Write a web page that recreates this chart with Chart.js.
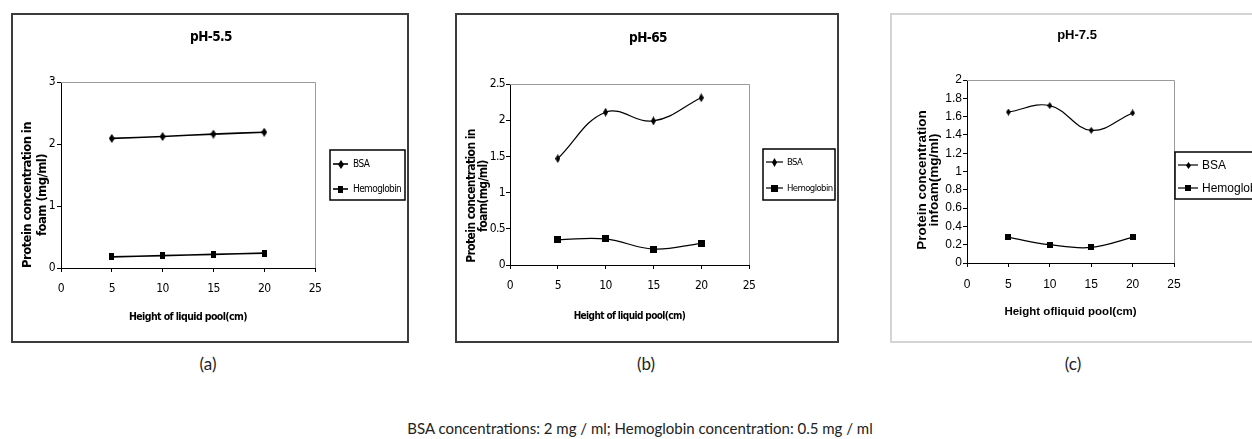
<!DOCTYPE html>
<html>
<head>
<meta charset="utf-8">
<script src="https://cdn.jsdelivr.net/npm/chart.js@4.4.1/dist/chart.umd.min.js"></script>
<style>
  html, body { margin: 0; padding: 0; background: #fff; }
  body { position: relative; width: 1252px; height: 439px; overflow: hidden; }
  .frame { position: absolute; box-sizing: border-box; }
  .dark { border: 2px solid #3c3c3c; }
  .light { border: 2px solid #d4d4d4; }
  canvas { position: absolute; }
  .cap { position: absolute; font-family: Lato, "Open Sans", sans-serif; color: #222; white-space: nowrap; transform: translate(-50%, -50%); }
  .sub { font-size: 17px; top: 363px; }
  #note { font-size: 15px; top: 428px; left: 640px; }
</style>
</head>
<body>
<div class="frame dark" style="left:11px;top:13px;width:398px;height:330px"></div>
<div class="frame dark" style="left:455px;top:13px;width:384px;height:330px"></div>
<div class="frame light" style="left:890px;top:13px;width:400px;height:330px"></div>
<canvas id="chartA" width="398" height="330" style="left:11px;top:13px"></canvas>
<canvas id="chartB" width="384" height="330" style="left:455px;top:13px"></canvas>
<canvas id="chartC" width="400" height="330" style="left:890px;top:13px"></canvas>
<div class="cap sub" style="left:208px">(a)</div>
<div class="cap sub" style="left:646px">(b)</div>
<div class="cap sub" style="left:1073px">(c)</div>
<div class="cap" id="note">BSA concentrations: 2 mg / ml; Hemoglobin concentration: 0.5 mg / ml</div>

<script>
// data
const heights = [5, 10, 15, 20];
const xTicks = [0, 5, 10, 15, 20, 25];

const bsa55 = [2.09, 2.12, 2.16, 2.19];
const hb55 = [0.18, 0.20, 0.22, 0.24];
const yTicks55 = [0, 1, 2, 3];

const bsa65 = [1.47, 2.11, 1.99, 2.31];
const hb65 = [0.35, 0.36, 0.22, 0.30];
const yTicks65 = [0, 0.5, 1, 1.5, 2, 2.5];

const bsa75 = [1.65, 1.72, 1.45, 1.64];
const hb75 = [0.28, 0.20, 0.17, 0.28];
const yTicks75 = [0, 0.2, 0.4, 0.6, 0.8, 1, 1.2, 1.4, 1.6, 1.8, 2];

const seriesNames = ['BSA', 'Hemoglobin'];

const NARROW = '"Liberation Sans Narrow", "DejaVu Sans Condensed", Arial, sans-serif';
const ARIAL = '"Liberation Sans", Arial, sans-serif';

// excel style markers: thin diamond and block
function makeMarker(shape, w, h) {
  const c = document.createElement('canvas');
  c.width = w;
  c.height = h;
  const g = c.getContext('2d');
  g.fillStyle = '#000';
  if (shape === 'diamond') {
    g.beginPath();
    g.moveTo(w / 2, 0);
    g.lineTo(w, h / 2);
    g.lineTo(w / 2, h);
    g.lineTo(0, h / 2);
    g.closePath();
    g.fill();
  } else {
    g.fillRect(0, 0, w, h);
  }
  return c;
}

const excelLook = {
  id: 'excelLook',
  beforeDraw(chart, args, opts) {
    // squeeze the text a little, the original charts use a narrow face
    chart.ctx.letterSpacing = opts.spacing || '0px';
  },
  beforeDatasetsDraw(chart, args, opts) {
    const { ctx, chartArea: a } = chart;
    ctx.save();
    ctx.strokeStyle = '#9a9a9a';
    ctx.lineWidth = 1;
    ctx.beginPath();
    ctx.moveTo(a.left, a.top + 0.5);
    ctx.lineTo(a.right + 0.5, a.top + 0.5);
    ctx.lineTo(a.right + 0.5, a.bottom);
    ctx.stroke();
    ctx.restore();
  },
  afterDraw(chart, args, opts) {
    const ctx = chart.ctx;
    ctx.save();
    ctx.fillStyle = '#000';
    ctx.font = opts.titleFont;
    ctx.textAlign = 'center';
    ctx.textBaseline = 'middle';
    ctx.fillText(opts.title, opts.titleX, opts.titleY);

    // y axis title, centred a bit below the plot middle like the original
    const T = opts.yTitle;
    ctx.font = T.font;
    T.lines.forEach((line, i) => {
      ctx.save();
      ctx.translate(T.x[i], T.yc);
      ctx.rotate(-Math.PI / 2);
      ctx.fillText(line, 0, 0);
      ctx.restore();
    });

    const L = opts.legend;
    ctx.fillStyle = '#fff';
    ctx.fillRect(L.left, L.top, L.width, L.height);
    ctx.strokeStyle = '#000';
    ctx.lineWidth = 1.5;
    ctx.strokeRect(L.left, L.top, L.width, L.height);
    ctx.font = L.font;
    ctx.textAlign = 'left';
    chart.data.datasets.forEach((ds, i) => {
      const y = L.top + L.rows[i];
      ctx.strokeStyle = '#000';
      ctx.lineWidth = ds.borderWidth;
      ctx.beginPath();
      ctx.moveTo(L.left + L.sample[0], y);
      ctx.lineTo(L.left + L.sample[1], y);
      ctx.stroke();
      const m = ds.pointStyle;
      const cx = L.left + (L.sample[0] + L.sample[1]) / 2;
      ctx.drawImage(m, Math.round(cx - m.width / 2), Math.round(y - m.height / 2));
      ctx.fillStyle = '#000';
      ctx.fillText(ds.label, L.left + L.textX, y + 0.5);
    });
    ctx.restore();
  }
};

function drawPanel(id, p) {
  const canvas = document.getElementById(id);
  const W = canvas.width, H = canvas.height;
  const tickFont = { family: p.family, size: p.tickSize };
  return new Chart(canvas, {
    type: 'line',
    data: {
      labels: heights,
      datasets: [
        {
          label: seriesNames[0],
          data: heights.map((h, i) => ({ x: h, y: p.bsa[i] })),
          borderColor: '#000',
          borderWidth: p.lineWidth,
          pointStyle: makeMarker('diamond', p.diamond[0], p.diamond[1]),
          tension: 0.4,
          fill: false
        },
        {
          label: seriesNames[1],
          data: heights.map((h, i) => ({ x: h, y: p.hb[i] })),
          borderColor: '#000',
          borderWidth: p.lineWidth,
          pointStyle: makeMarker('square', p.square[0], p.square[1]),
          tension: 0.4,
          fill: false
        }
      ]
    },
    options: {
      responsive: false,
      animation: false,
      events: [],
      layout: {
        padding: { left: 0, top: p.plot.top, right: W - p.plot.right, bottom: H - p.plot.bottom - 60 }
      },
      plugins: {
        legend: { display: false },
        tooltip: { enabled: false },
        excelLook: {
          spacing: p.spacing,
          title: p.title,
          titleFont: p.titleFont,
          titleX: p.titlePos[0],
          titleY: p.titlePos[1],
          yTitle: p.yTitle,
          legend: p.legend
        }
      },
      scales: {
        x: {
          type: 'linear',
          min: 0,
          max: 25,
          afterBuildTicks: (s) => { s.ticks = xTicks.map(v => ({ value: v })); },
          afterFit: (s) => { s.height = 60; },
          border: { color: '#000', width: 1 },
          grid: { drawOnChartArea: false, drawTicks: true, tickLength: 4, color: '#000' },
          ticks: { color: '#000', font: tickFont, padding: p.xPad, maxRotation: 0, autoSkip: false },
          title: {
            display: true,
            text: p.xTitle,
            color: '#000',
            font: { family: p.family, size: p.xTitleSize, weight: 'bold' },
            padding: { top: 0, bottom: p.xTitlePad }
          }
        },
        y: {
          min: 0,
          max: p.yTicks[p.yTicks.length - 1],
          afterBuildTicks: (s) => { s.ticks = p.yTicks.map(v => ({ value: v })); },
          afterFit: (s) => { s.width = p.plot.left; },
          border: { color: '#000', width: 1 },
          grid: { drawOnChartArea: false, drawTicks: true, tickLength: 4, color: '#000' },
          ticks: { color: '#000', font: tickFont, padding: p.yPad, autoSkip: false, callback: (v) => String(v) }
        }
      }
    },
    plugins: [excelLook]
  });
}

drawPanel('chartA', {
  bsa: bsa55, hb: hb55, yTicks: yTicks55, spacing: '-0.6px',
  plot: { left: 50, right: 304, top: 69, bottom: 255 },
  family: NARROW, tickSize: 12, lineWidth: 1.6,
  title: 'pH-5.5', titleFont: 'bold 13.5px ' + NARROW, titlePos: [200, 24],
  xTitle: 'Height of liquid pool(cm)', xTitleSize: 10.5, xTitlePad: 4,
  yTitle: { lines: ['Protein concentration in', 'foam (mg/ml)'], x: [17, 32], yc: 182, font: 'bold 13px ' + NARROW },
  xPad: 10, yPad: 2,
  diamond: [6, 9], square: [5, 7],
  legend: { left: 319, top: 137, width: 75, height: 50, rows: [14, 39], sample: [3, 18], textX: 23, font: '10px ' + NARROW }
});

drawPanel('chartB', {
  bsa: bsa65, hb: hb65, yTicks: yTicks65, spacing: '-0.6px',
  plot: { left: 55, right: 294, top: 71, bottom: 252 },
  family: NARROW, tickSize: 12, lineWidth: 1.2,
  title: 'pH-65', titleFont: 'bold 13.5px ' + NARROW, titlePos: [193, 25],
  xTitle: 'Height of liquid pool(cm)', xTitleSize: 10, xTitlePad: 3,
  yTitle: { lines: ['Protein concentration in', 'foam(mg/ml)'], x: [17, 29], yc: 183, font: 'bold 12px ' + NARROW },
  xPad: 10, yPad: 1,
  diamond: [5, 9], square: [7, 7],
  legend: { left: 308, top: 136, width: 72, height: 51, rows: [13, 39], sample: [3, 20], textX: 24, font: '9.5px ' + NARROW }
});

drawPanel('chartC', {
  bsa: bsa75, hb: hb75, yTicks: yTicks75, spacing: '0px',
  plot: { left: 77, right: 284, top: 67, bottom: 250 },
  family: ARIAL, tickSize: 12, lineWidth: 1.2,
  title: 'pH-7.5', titleFont: 'bold 13px ' + ARIAL, titlePos: [187, 22],
  xTitle: 'Height ofliquid pool(cm)', xTitleSize: 11.5, xTitlePad: 4,
  yTitle: { lines: ['Protein concentration', 'infoam(mg/ml)'], x: [32, 44], yc: 167, font: 'bold 13.5px ' + ARIAL },
  xPad: 10, yPad: 1,
  diamond: [5, 7], square: [6, 6],
  legend: { left: 285, top: 139, width: 110, height: 47, rows: [13, 36], sample: [3, 23], textX: 27, font: '12px ' + ARIAL }
});
</script>
</body>
</html>
